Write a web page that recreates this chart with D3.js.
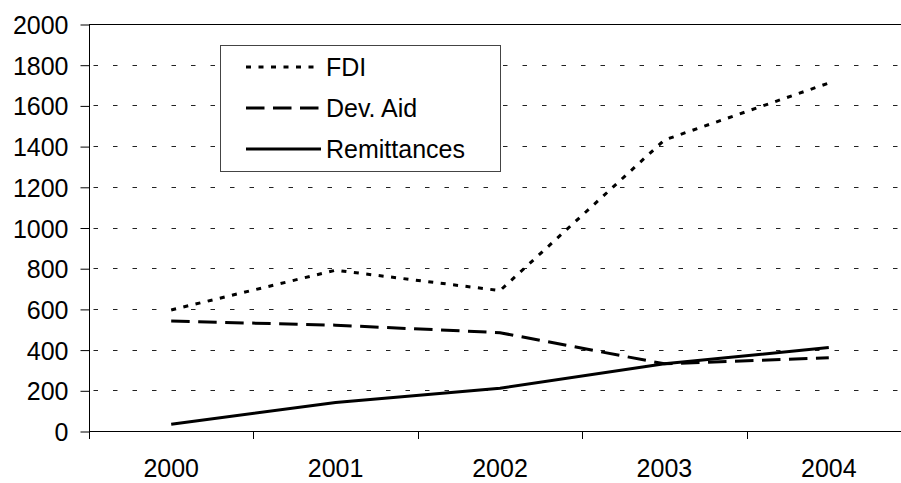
<!DOCTYPE html>
<html>
<head>
<meta charset="utf-8">
<script src="https://cdn.jsdelivr.net/npm/d3@7"></script>
<style>
  body{margin:0;background:#fff;}
  svg{display:block;}
  text{font-family:"Liberation Sans",Arial,sans-serif;fill:#000;}
</style>
</head>
<body>
<div id="app"></div>
<script>
var years = ['2000','2001','2002','2003','2004'];
var fdi = [595, 790, 690, 1430, 1710];
var devAid = [540, 520, 483, 330, 360];
var remittances = [33, 140, 210, 330, 410];
var yTicks = [0,200,400,600,800,1000,1200,1400,1600,1800,2000];
var seriesNames = ['FDI','Dev. Aid','Remittances'];

var svg = d3.select('#app')
  .append('svg')
    .attr('width',901)
    .attr('height',483);

var scaleX = d3.scaleBand()
    .domain(years)
    .range([89,911]);

var scaleY = d3.scaleLinear()
    .domain([0,2000])
    .range([431,24]);

// gridlines (dashed), top one solid like the plot border
svg.append('g')
    .attr('class','grid')
    .selectAll('line')
    .data(yTicks.filter(function(d){return d>0 && d<2000;}))
  .enter().append('line')
    .attr('x1',89)
    .attr('x2',901)
    .attr('y1',function(d){return Math.round(scaleY(d))+0.5;})
    .attr('y2',function(d){return Math.round(scaleY(d))+0.5;})
    .attr('stroke','#222')
    .attr('stroke-width',1)
    .attr('stroke-dasharray','4.5 15')
    .attr('stroke-dashoffset',-4.5);

svg.append('line')
    .attr('x1',89)
    .attr('x2',901)
    .attr('y1',Math.round(scaleY(2000))+0.5)
    .attr('y2',Math.round(scaleY(2000))+0.5)
    .attr('stroke','#000');

// y axis
var yAxis = d3.axisLeft(scaleY)
    .tickValues(yTicks)
    .tickFormat(d3.format('d'))
    .tickSize(9)
    .tickPadding(12);

svg.append('g')
    .attr('transform','translate(89.5,0.5)')
    .call(yAxis)
    .call(function(g){
      g.select('.domain').attr('d','M0,'+(scaleY(2000)-0.5)+'V'+(scaleY(0)-0.5));
      g.selectAll('text').style('font-size','25px').attr('dy','0.36em');
    });

// x axis with ticks between categories
var xAxis = d3.axisBottom(scaleX).tickSize(0).tickPadding(28);

svg.append('g')
    .attr('transform','translate(0,431.5)')
    .call(xAxis)
    .call(function(g){
      g.select('.domain').attr('d','M89,0H901');
      g.selectAll('text').style('font-size','25px').attr('dy','0.71em');
    });

svg.append('g')
    .selectAll('line')
    .data(years.concat(['end']))
  .enter().append('line')
    .attr('x1',function(d,i){return Math.round(89+i*scaleX.step())+0.5;})
    .attr('x2',function(d,i){return Math.round(89+i*scaleX.step())+0.5;})
    .attr('y1',431)
    .attr('y2',439)
    .attr('stroke','#000');

// series lines
var line = d3.line()
    .x(function(d,i){return scaleX(years[i])+scaleX.bandwidth()/2;})
    .y(function(d){return scaleY(d);});

var series = [
  {name:'FDI', values:fdi, dash:'5 7.5'},
  {name:'Dev. Aid', values:devAid, dash:'18.5 8.5'},
  {name:'Remittances', values:remittances, dash:null}
];

svg.append('g')
    .selectAll('path')
    .data(series)
  .enter().append('path')
    .attr('d',function(d){return line(d.values);})
    .attr('fill','none')
    .attr('stroke','#000')
    .attr('stroke-width',3)
    .attr('stroke-dasharray',function(d){return d.dash;});

// legend
var legend = svg.append('g').attr('class','legend');

legend.append('rect')
    .attr('x',220.5)
    .attr('y',45.5)
    .attr('width',280)
    .attr('height',126)
    .attr('fill','#fff')
    .attr('stroke','#444');

var rows = legend.selectAll('g.row')
    .data(series)
  .enter().append('g')
    .attr('class','row')
    .attr('transform',function(d,i){return 'translate(0,'+(67+i*41)+')';});

rows.append('line')
    .attr('x1',246)
    .attr('x2',321)
    .attr('y1',0)
    .attr('y2',0)
    .attr('stroke','#000')
    .attr('stroke-width',3)
    .attr('stroke-dasharray',function(d){return d.dash;});

rows.append('text')
    .text(function(d){return d.name;})
    .attr('x',326)
    .attr('y',9)
    .style('font-size','25px');
</script>
</body>
</html>
